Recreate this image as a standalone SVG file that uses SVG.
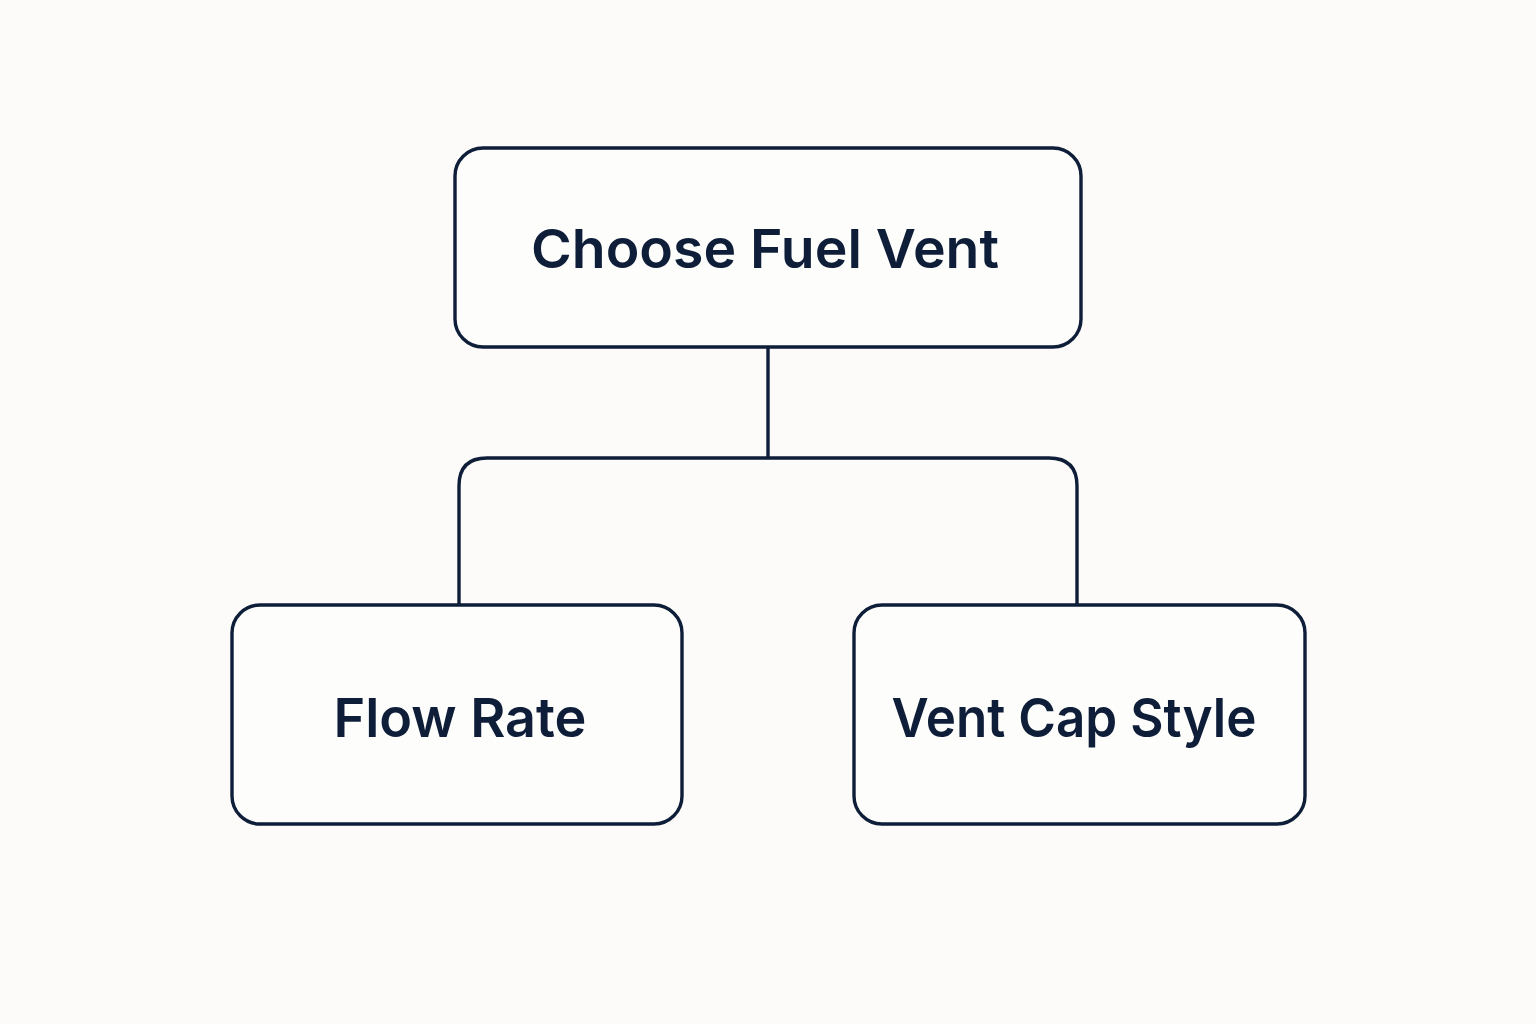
<svg xmlns="http://www.w3.org/2000/svg" width="1536" height="1024" viewBox="0 0 1536 1024">
<style>
.box{fill:#fdfdfc;stroke:#0e1d38;stroke-width:3.4}
.conn{fill:none;stroke:#0e1d38;stroke-width:3.4}
.lbl{font-family:Inter,"Liberation Sans",sans-serif;font-weight:600;font-size:54px;fill:#0e1d38;text-anchor:middle}
</style>
<rect width="1536" height="1024" fill="#fcfbf9"/>
<g id="connectors">
<path class="conn" d="M768 347 V458"/>
<path class="conn" d="M459 604 V486 Q459 458 487 458 H1049 Q1077 458 1077 486 V604"/>
</g>
<g id="node-choose">
<rect class="box" x="455" y="148" width="626" height="199" rx="28"/>
<text class="lbl" x="765" y="268" textLength="468" lengthAdjust="spacingAndGlyphs">Choose Fuel Vent</text>
</g>
<g id="node-flow">
<rect class="box" x="232" y="605" width="450" height="219" rx="28"/>
<text class="lbl" x="460" y="737" textLength="253" lengthAdjust="spacingAndGlyphs">Flow Rate</text>
</g>
<g id="node-cap">
<rect class="box" x="854" y="605" width="451" height="219" rx="28"/>
<text class="lbl" x="1074" y="737" textLength="365" lengthAdjust="spacingAndGlyphs">Vent Cap Style</text>
</g>
</svg>
